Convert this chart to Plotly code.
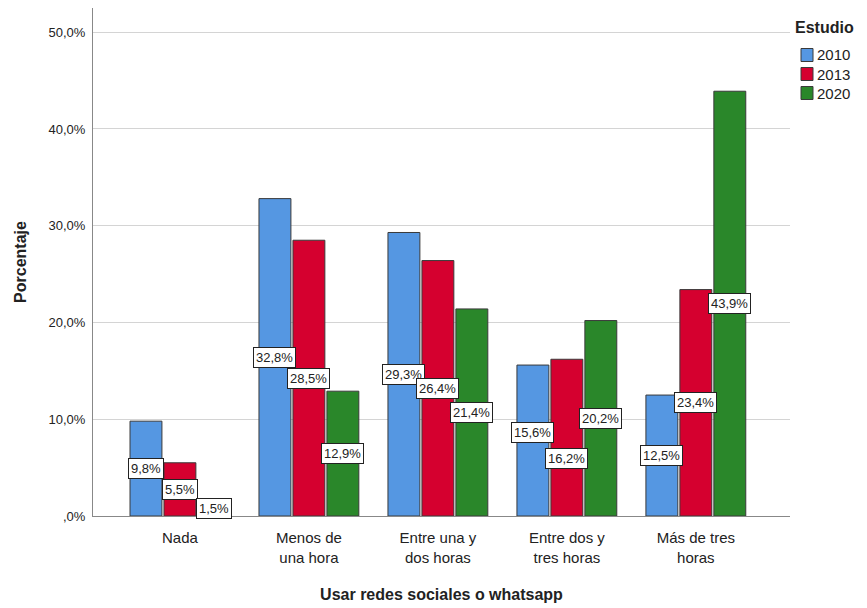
import plotly.graph_objects as go

# Datos
categorias = ["Nada", "Menos de<br>una hora", "Entre una y<br>dos horas",
              "Entre dos y<br>tres horas", "Más de tres<br>horas"]
estudios = ["2010", "2013", "2020"]
pct_2010 = [9.8, 32.8, 29.3, 15.6, 12.5]
pct_2013 = [5.5, 28.5, 26.4, 16.2, 23.4]
pct_2020 = [1.5, 12.9, 21.4, 20.2, 43.9]
ticks_y = [0, 10, 20, 30, 40, 50]
ticks_y_txt = [",0%", "10,0%", "20,0%", "30,0%", "40,0%", "50,0%"]

colores = ["#5597e2", "#d5002f", "#2a872a"]
series = [pct_2010, pct_2013, pct_2020]

# etiquetas que SPSS desplaza para que no se solapen (serie, categoria) -> px
desplazar = {(0, 3): 8, (1, 3): -21}

# la pagina tiene 8px de margen en el body
W, H = 859, 600
L, T, R, B = 85, 0, 77, 92
pw, ph = W - L - R, H - T - B


def px(xp, yp):
    # pixel de la pagina -> coordenadas paper
    return (xp - 8 - L) / pw, (H - B - (yp - 8)) / ph


x = list(range(len(categorias)))
bargap = 0.21
groupgap = 0.06
slot = (1 - bargap) / len(series)

fig = go.Figure()
annotations = []
shapes = []
for k, (nombre, vals, col) in enumerate(zip(estudios, series, colores)):
    fig.add_trace(go.Bar(
        x=x, y=vals, name=nombre, showlegend=False,
        marker=dict(color=col, line=dict(color="#3a3a3a", width=1)),
    ))
    off = (k - 1) * slot
    for i, v in enumerate(vals):
        annotations.append(dict(
            x=i + off, y=v / 2, xref="x", yref="y",
            yshift=desplazar.get((k, i), 0),
            text=f"{v:.1f}%".replace(".", ","),
            showarrow=False, bgcolor="white",
            bordercolor="#222", borderwidth=1, borderpad=2,
            font=dict(size=13, color="#222"),
        ))
    # leyenda manual
    yc = 55 + 19 * k
    x0, y0 = px(801, yc + 6.5)
    x1, y1 = px(813, yc - 6.5)
    shapes.append(dict(type="rect", xref="paper", yref="paper",
                       x0=x0, y0=y0, x1=x1, y1=y1, fillcolor=col,
                       line=dict(color="#3a3a3a", width=1)))
    ax, ay = px(815, yc)
    annotations.append(dict(
        x=ax, y=ay, xref="paper", yref="paper", text=nombre,
        showarrow=False, xanchor="left", yanchor="middle",
        font=dict(size=15, color="#222"),
    ))

# titulo de la leyenda
tx, ty = px(793, 27)
annotations.append(dict(
    x=tx, y=ty, xref="paper", yref="paper", text="<b>Estudio</b>",
    showarrow=False, xanchor="left", yanchor="middle",
    font=dict(size=16, color="#222"),
))

fig.update_layout(
    width=W, height=H,
    paper_bgcolor="white", plot_bgcolor="white",
    font=dict(family="Liberation Sans, Arial, sans-serif", color="#222"),
    barmode="group", bargap=bargap, bargroupgap=groupgap,
    margin=dict(l=L, r=R, t=T, b=B, autoexpand=False),
    annotations=annotations,
    shapes=shapes,
    showlegend=False,
)
fig.update_xaxes(
    tickmode="array", tickvals=x, ticktext=categorias,
    range=[-0.674, 4.73], showline=True, linecolor="#888", linewidth=1,
    ticks="outside", ticklen=8, tickcolor="rgba(0,0,0,0)", tickfont=dict(size=15),
    automargin=False,
    title=dict(text="<b>Usar redes sociales o whatsapp</b>", font=dict(size=16), standoff=24),
)
fig.update_yaxes(
    range=[0, 52.5], tickmode="array", tickvals=ticks_y, ticktext=ticks_y_txt,
    showline=True, linecolor="#888", linewidth=1,
    showgrid=True, gridcolor="#d4d4d4", gridwidth=1, zeroline=False,
    ticks="outside", ticklen=4, tickcolor="rgba(0,0,0,0)", tickfont=dict(size=13),
    automargin=False,
    title=dict(text="<b>Porcentaje</b>", font=dict(size=16), standoff=17),
)

fig.write_html("out.html")
